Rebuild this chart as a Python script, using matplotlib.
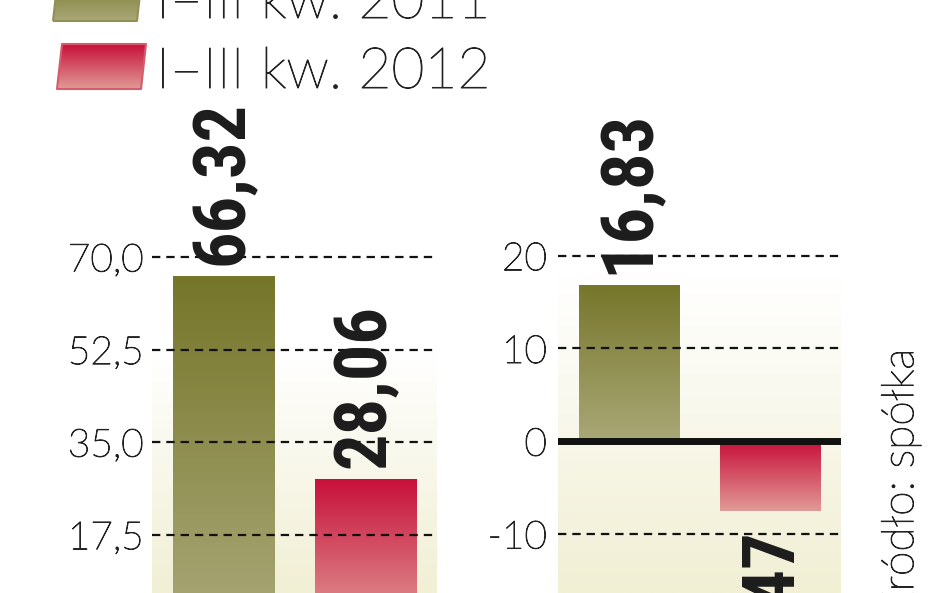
import numpy as np
import matplotlib
matplotlib.use("Agg")
import matplotlib.pyplot as plt
import matplotlib.patheffects as pe
from matplotlib import font_manager
from matplotlib.colors import LinearSegmentedColormap
from matplotlib.patches import Polygon

# data
periods = ["I–III kw. 2011", "I–III kw. 2012"]
left_vals = [66.32, 28.06]
right_vals = [16.83, -7.47]
left_ticks = [17.5, 35.0, 52.5, 70.0]
right_ticks = [-10, 0, 10, 20]
source = "Źródło: spółka"

W, H = 948, 593
plt.rcParams["lines.scale_dashes"] = False
fig = plt.figure(figsize=(W / 100, H / 100), dpi=100)

# gradients run bottom -> top
olive = LinearSegmentedColormap.from_list("olive", ["#a9a878", "#76762a"])
red = LinearSegmentedColormap.from_list("red", ["#e09a96", "#c8103a"])
beige = LinearSegmentedColormap.from_list("beige", ["#f1efd4", "#ffffff"])
cmaps = [olive, red]

TXT_COLOR = "#222222"
# light face, thickened a little with a stroke of the same colour
THICK = [pe.withStroke(linewidth=0.7, foreground=TXT_COLOR)]
LIGHT = dict(family=["Lato", "DejaVu Sans"], weight="light", color=TXT_COLOR,
             path_effects=THICK)

# narrow bold face for the value labels
try:
    font_manager.findfont(font_manager.FontProperties(family="Roboto Condensed"),
                          fallback_to_default=False)
    BOLD = dict(family=["Roboto Condensed"], weight="bold", color="#1c1c1c")
    bold_size = 52
except ValueError:
    BOLD = dict(family=["DejaVu Sans"], stretch="condensed", weight="bold",
                color="#1c1c1c")
    bold_size = 44
grad = np.linspace(0, 1, 256).reshape(-1, 1)


def panel(x0, x1, ylim, ticks, labels, vals, bg_top, pad):
    ax = fig.add_axes([x0 / W, 0, (x1 - x0) / W, 1])
    ax.set_xlim(-0.5, 1.5)
    ax.set_ylim(*ylim)
    ax.patch.set_alpha(0)
    for s in ax.spines.values():
        s.set_visible(False)
    ax.set_xticks([])
    ax.set_yticks(ticks, labels)
    ax.tick_params(axis="y", length=0, pad=pad)
    for t in ax.get_yticklabels():
        t.set_fontfamily(LIGHT["family"])
        t.set_fontweight(LIGHT["weight"])
        t.set_color(TXT_COLOR)
        t.set_path_effects(THICK)
        t.set_fontsize(28)

    ax.imshow(grad, extent=(-0.5, 1.5, ylim[0], bg_top), origin="lower",
              cmap=beige, aspect="auto", zorder=0)
    for t in ticks:
        if t == 0:
            ax.axhline(0, color="#111111", lw=5, zorder=4)
        else:
            ax.axhline(t, color="#111111", lw=1.6, dashes=(6, 4.3), zorder=3)

    bars = ax.bar(range(len(vals)), vals, width=0.71, color="none", zorder=2)
    for i, (b, v) in enumerate(zip(bars, vals)):
        im = ax.imshow(grad, extent=(i - 0.355, i + 0.355, min(0, v), max(0, v)),
                       origin="lower", cmap=cmaps[i], aspect="auto", zorder=2)
        im.set_clip_path(b)
        txt = f"{v:.2f}".replace(".", ",")
        off = 8 if v >= 0 else -12
        ax.annotate(txt, xy=(i, v), xytext=(0, off), textcoords="offset points",
                    rotation=90, ha="center", va="bottom" if v >= 0 else "top",
                    fontsize=bold_size, zorder=5, **BOLD)
    ax.set_xlim(-0.5, 1.5)
    ax.set_ylim(*ylim)
    return ax


# left panel: 70 at y=257px, 5.29 px per unit
panel(152, 437, (6.48, 118.58), left_ticks,
      [f"{t:.1f}".replace(".", ",") for t in left_ticks],
      left_vals, 52, 6)
# right panel: 0 at y=446px, 9.28 px per unit
panel(558, 841, (-16.36, 47.56), right_ticks,
      [str(t) for t in right_ticks], right_vals, 18, 8)

# legend drawn in pixel coordinates
lg = fig.add_axes([0, 0, 1, 1])
lg.set_xlim(0, W)
lg.set_ylim(H, 0)
lg.axis("off")
patches = [[(53, 21), (137, 21), (142, -24), (58, -24)],
           [(57, 89), (141, 89), (146, 44), (62, 44)]]
text_y = [18, 88]
for pts, cm, name, ty in zip(patches, cmaps, periods, text_y):
    poly = Polygon(pts, closed=True, facecolor="none",
                   edgecolor=cm(0.45), lw=1.5, joinstyle="round")
    lg.add_patch(poly)
    ys = [p[1] for p in pts]
    xs = [p[0] for p in pts]
    im = lg.imshow(grad[::-1], extent=(min(xs), max(xs), max(ys), min(ys)),
                   cmap=cm, aspect="auto", origin="upper")
    im.set_clip_path(poly)
    lg.text(156, ty, name, fontsize=41, va="baseline", ha="left", **LIGHT)
lg.set_xlim(0, W)
lg.set_ylim(H, 0)

fig.text(897 / W, 1 - 348 / H, source, rotation=90, ha="center", va="top",
         fontsize=32, **LIGHT)

fig.savefig("out.png", dpi=100)
